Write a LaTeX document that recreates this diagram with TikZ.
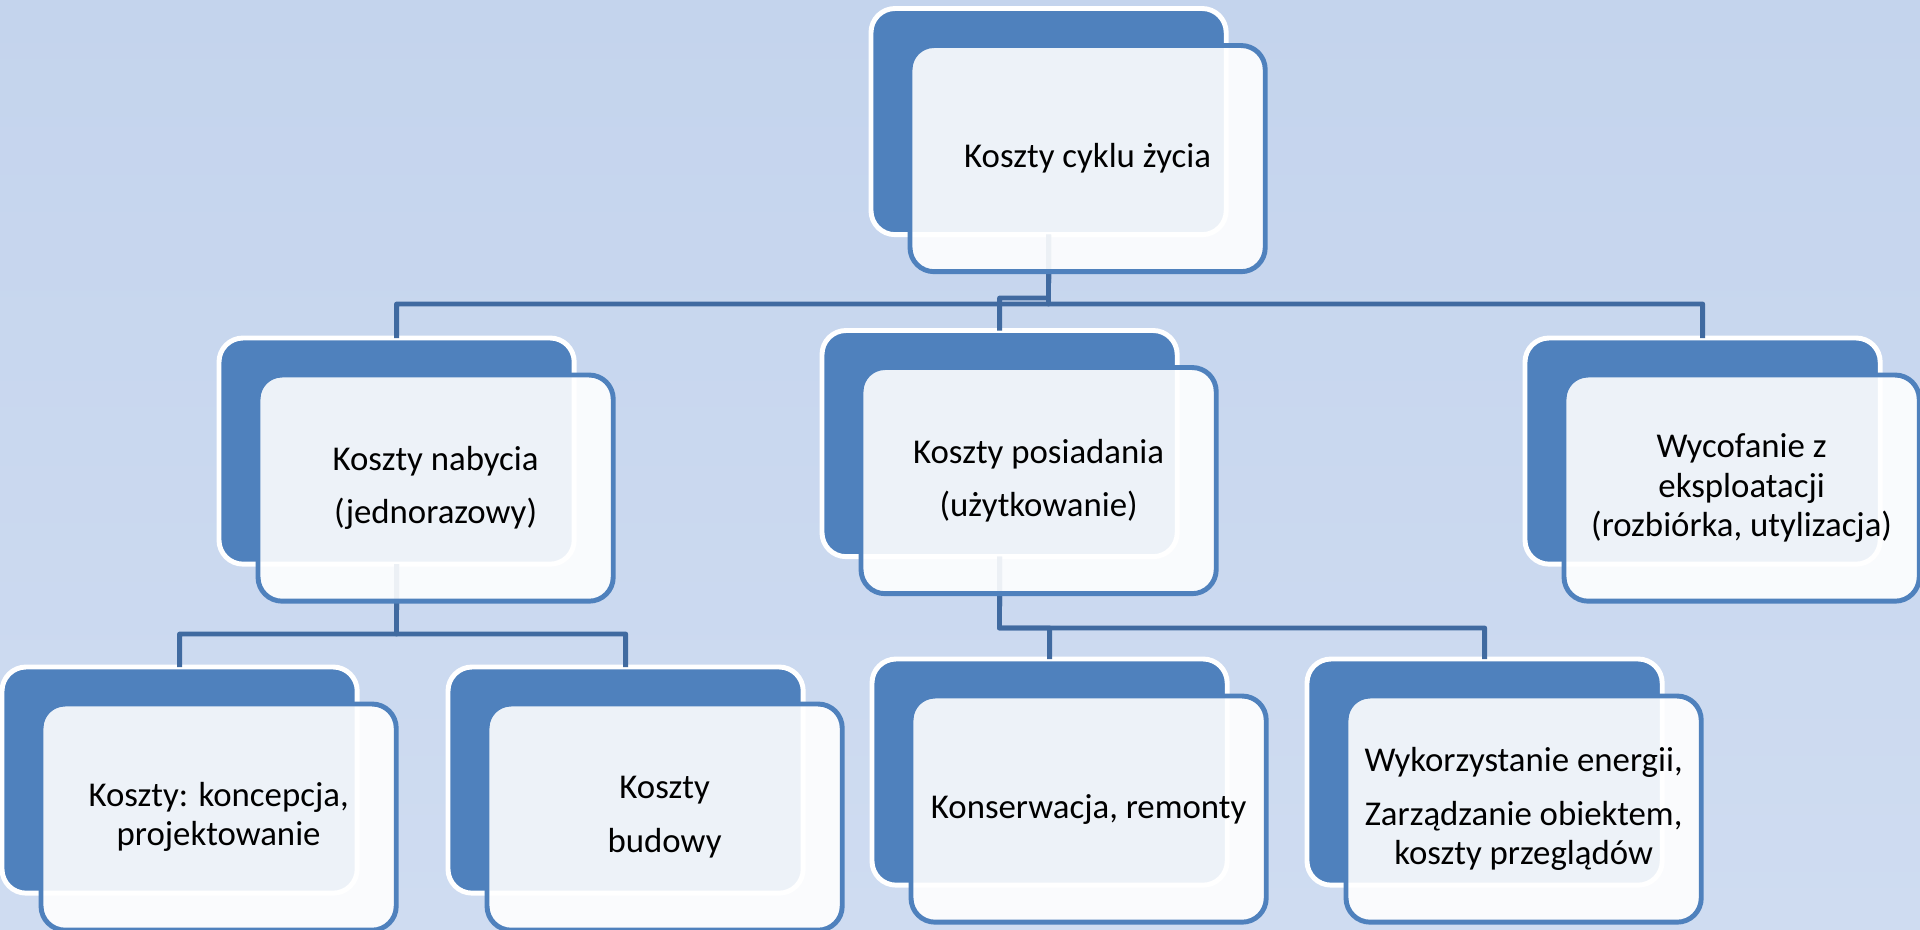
\documentclass[tikz,border=0pt]{standalone}
\usepackage{fontspec}
\setmainfont{Carlito}
\usetikzlibrary{positioning}
\definecolor{bgtop}{RGB}{196,212,237}
\definecolor{bgbot}{RGB}{207,220,241}
\definecolor{boxblue}{RGB}{79,129,189}
\definecolor{linkblue}{RGB}{64,106,160}
\tikzset{backbox/.style = {draw=white, line width=1.4pt, fill=boxblue,
                           rounded corners=0.24cm, inner sep=0, outer sep=0,
                           minimum width=3.55cm, minimum height=2.26cm,
                           anchor=north west}}
\tikzset{frontbox/.style = {draw=boxblue, line width=1.4pt, fill=white,
                            fill opacity=0.9, text opacity=1,
                            rounded corners=0.24cm, inner sep=0, outer sep=0,
                            minimum width=3.55cm, minimum height=2.26cm,
                            align=center, font=\fontsize{9.9}{11.2}\selectfont}}
\tikzset{link/.style = {draw=linkblue, line width=1.4pt, line join=round}}
\tikzset{shift/.style = {below right=0.37cm and 0.39cm of #1.north west}}

\begin{document}
\begin{tikzpicture}[x=0.01cm, y=-0.01cm]
    \useasboundingbox (0, 0) rectangle (1920, 930);
    \fill [top color=bgtop, bottom color=bgbot] (0, 0) rectangle (1920, 930);

    \node [backbox] (topB) at (871, 8.5) {};
    \node [backbox] (nabB) at (219, 338) {};
    \node [backbox] (posB) at (822, 330.5) {};
    \node [backbox] (wycB) at (1525, 338) {};
    \node [backbox] (konB) at (2, 667) {};
    \node [backbox] (budB) at (448, 667) {};
    \node [backbox] (remB) at (872, 659) {};
    \node [backbox] (eneB) at (1307, 659) {};

    \coordinate (topJ) at (1048.5, 304);
    \coordinate (topJm) at (1048.5, 298);
    \coordinate (nabJ) at (396.5, 634);
    \coordinate (posJ) at (999.5, 628);

    \draw [link] (topB.south) -- (topJ) -| (nabB.north);
    \draw [link] (topB.south) -- (topJ) -| (wycB.north);
    \draw [link] (topB.south) -- (topJm) -| (posB.north);
    \draw [link] (nabB.south) -- (nabJ) -| (konB.north);
    \draw [link] (nabB.south) -- (nabJ) -| (budB.north);
    \draw [link] (posB.south) -- (posJ) -| (remB.north);
    \draw [link] (posB.south) -- (posJ) -| (eneB.north);

    \node [frontbox, shift=topB] (top) {Koszty cyklu życia};
    \node [frontbox, shift=nabB] (nab) {Koszty nabycia\\[4pt](jednorazowy)};
    \node [frontbox, shift=posB] (pos) {Koszty posiadania\\[4pt](użytkowanie)};
    \node [frontbox, shift=wycB] (wyc) {Wycofanie z\\eksploatacji\\(rozbiórka, utylizacja)};
    \node [frontbox, shift=konB] (kon) {Koszty: koncepcja,\\projektowanie};
    \node [frontbox, shift=budB] (bud) {Koszty\\[4pt]budowy};
    \node [frontbox, shift=remB] (rem) {Konserwacja, remonty};
    \node [frontbox, shift=eneB] (ene) {Wykorzystanie energii,\\[4pt]Zarządzanie obiektem,\\koszty przeglądów};
  \end{tikzpicture}
\end{document}
